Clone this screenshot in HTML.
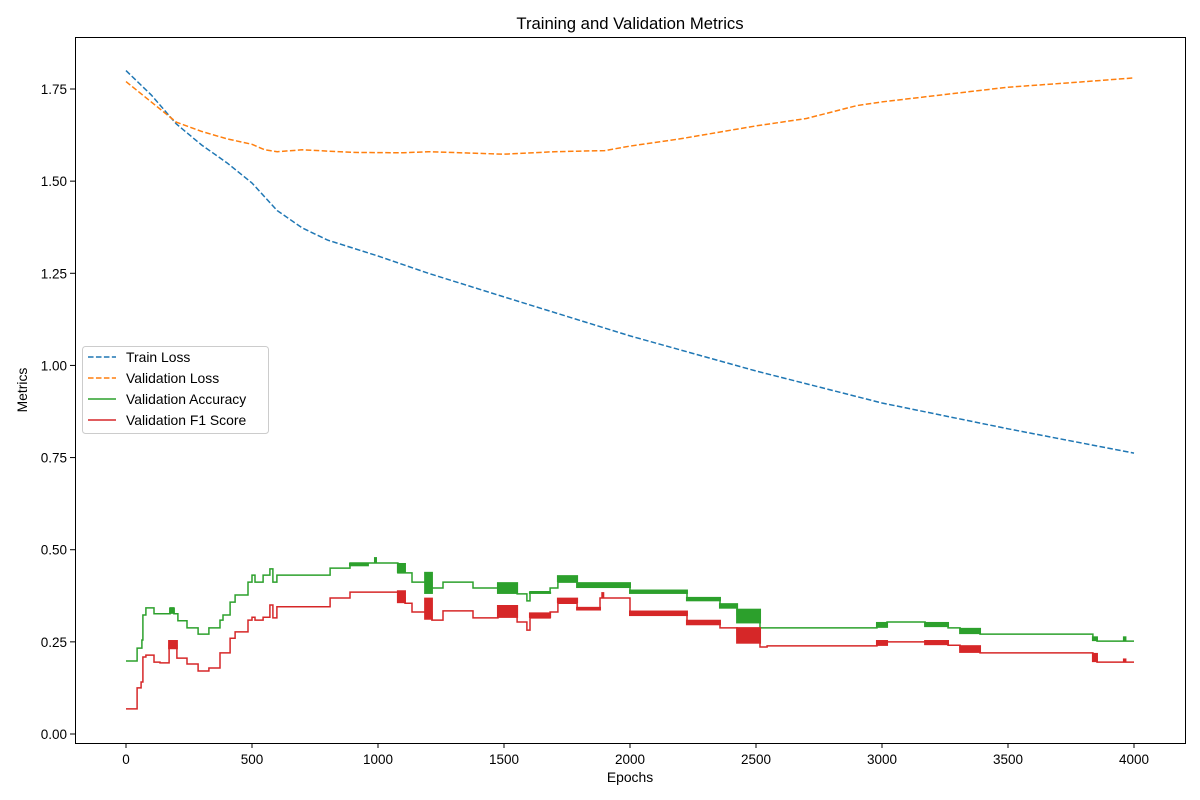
<!DOCTYPE html>
<html><head><meta charset="utf-8"><style>
body{margin:0;background:#fff;}
svg{display:block;font-family:"Liberation Sans","DejaVu Sans",sans-serif;}
</style></head><body>
<svg id="chart" width="1200" height="800" viewBox="0 0 1200 800">
<rect x="0" y="0" width="1200" height="800" fill="#fff"/>
<text x="630" y="29" text-anchor="middle" font-size="16.7">Training and Validation Metrics</text>
<text x="630" y="782" text-anchor="middle" font-size="13.9">Epochs</text>
<text x="27" y="390" text-anchor="middle" font-size="13.9" transform="rotate(-90 27 390)">Metrics</text>
<g id="ticks"></g>
<g id="series"></g>
<rect x="75.5" y="37.5" width="1110" height="706" fill="none" stroke="#000" stroke-width="1"/>
<g>
<rect x="82.5" y="346.5" width="186" height="87" rx="3" fill="#fff" fill-opacity="0.8" stroke="#ccc"/>
<line x1="88" y1="357" x2="116" y2="357" stroke="#1f77b4" stroke-width="1.5" stroke-dasharray="5.55 2.4"/>
<text x="126" y="362" font-size="13.9">Train Loss</text>
<line x1="88" y1="378" x2="116" y2="378" stroke="#ff7f0e" stroke-width="1.5" stroke-dasharray="5.55 2.4"/>
<text x="126" y="383" font-size="13.9">Validation Loss</text>
<line x1="88" y1="399" x2="116" y2="399" stroke="#2ca02c" stroke-width="1.5"/>
<text x="126" y="404" font-size="13.9">Validation Accuracy</text>
<line x1="88" y1="420" x2="116" y2="420" stroke="#d62728" stroke-width="1.5"/>
<text x="126" y="425" font-size="13.9">Validation F1 Score</text>
</g>
</svg>
<script>
const xTicks = [0,500,1000,1500,2000,2500,3000,3500,4000];
const yTicks = [0,0.25,0.5,0.75,1.0,1.25,1.5,1.75];
const yTickLabels = ["0.00","0.25","0.50","0.75","1.00","1.25","1.50","1.75"];
const lossEpochs = [0,100,200,300,400,500,600,700,800,1000,1200,1500,2000,2500,3000,3500,4000];
const trainLoss = [1.80,1.734,1.655,1.598,1.55,1.495,1.42,1.373,1.34,1.297,1.25,1.186,1.08,0.985,0.898,0.828,0.762];
const valEpochs = [0,100,200,300,400,500,550,600,700,900,1100,1200,1500,1700,1900,2000,2200,2500,2700,2900,3000,3250,3500,3750,4000];
const valLoss = [1.77,1.715,1.66,1.635,1.615,1.60,1.585,1.58,1.585,1.578,1.577,1.58,1.573,1.58,1.583,1.595,1.615,1.65,1.67,1.705,1.715,1.735,1.755,1.767,1.78];
const accEpochs = [0,44,63,67,79,111,175,190,206,242,286,329,373,385,413,433,484,500,512,544,571,583,599,810,889,1079,1135,1214,1258,1377,1476,1552,1591,1603,1683,1714,1790,2000,2226,2357,2425,2516,2980,3020,3171,3262,3310,3389,3837,3853,4000];
const accValues = [0.198,0.233,0.255,0.323,0.342,0.326,0.342,0.326,0.307,0.288,0.271,0.288,0.309,0.323,0.358,0.377,0.412,0.431,0.412,0.431,0.448,0.412,0.431,0.450,0.464,0.437,0.412,0.396,0.412,0.396,0.396,0.380,0.361,0.386,0.396,0.412,0.409,0.385,0.369,0.350,0.323,0.288,0.295,0.304,0.295,0.288,0.28,0.271,0.26,0.252,0.252];
const accBands = [[175,190,0.326,0.342],[988,992,0.464,0.48],[889,960,0.455,0.464],[1079,1107,0.437,0.464],[1187,1214,0.38,0.44],[1476,1552,0.38,0.412],[1603,1683,0.38,0.386],[1714,1790,0.412,0.431],[1790,2000,0.396,0.412],[2000,2226,0.38,0.392],[2226,2357,0.36,0.372],[2357,2425,0.34,0.355],[2425,2516,0.30,0.34],[2980,3020,0.288,0.304],[3171,3262,0.29,0.304],[3310,3389,0.271,0.288],[3837,3853,0.252,0.265],[3960,3966,0.252,0.265]];
const f1Epochs = [0,44,60,67,79,111,135,171,202,242,286,329,373,413,433,484,500,512,544,571,583,599,810,889,1079,1107,1135,1214,1258,1377,1476,1552,1591,1603,1683,1714,1790,1881,2000,2226,2357,2425,2516,2544,2980,3020,3171,3262,3310,3389,3837,3853,4000];
const f1Values = [0.068,0.125,0.141,0.209,0.214,0.195,0.193,0.241,0.206,0.190,0.171,0.179,0.220,0.260,0.277,0.309,0.317,0.309,0.317,0.350,0.315,0.345,0.369,0.385,0.37,0.355,0.331,0.309,0.334,0.315,0.33,0.304,0.282,0.315,0.331,0.355,0.342,0.369,0.328,0.304,0.288,0.269,0.236,0.239,0.245,0.25,0.25,0.241,0.23,0.220,0.205,0.195,0.195];
const f1Bands = [[171,202,0.23,0.255],[1079,1107,0.355,0.39],[1187,1214,0.31,0.37],[1476,1552,0.315,0.35],[1603,1683,0.315,0.33],[1714,1790,0.355,0.37],[1790,1881,0.335,0.345],[1890,1894,0.369,0.385],[2000,2226,0.32,0.335],[2226,2357,0.295,0.31],[2425,2516,0.245,0.29],[2980,3020,0.239,0.255],[3171,3262,0.241,0.255],[3310,3389,0.22,0.241],[3837,3853,0.195,0.22],[3960,3966,0.195,0.205]];

const NS = "http://www.w3.org/2000/svg";
function xS(e){ return 126 + e*0.252; }
function yS(v){ return 734 - v*368.57; }
const tg = document.getElementById('ticks');
const sg = document.getElementById('series');
function mk(tag, attrs, parent){ const el = document.createElementNS(NS, tag); for (const k in attrs) el.setAttribute(k, attrs[k]); parent.appendChild(el); return el; }

xTicks.forEach(t => {
  const x = xS(t);
  const l = mk('line', {x1:x, y1:743, x2:x, y2:748, stroke:'#000', 'stroke-width':1}, tg);
  
  
  const tx = mk('text', {x:x, y:764, 'text-anchor':'middle', 'font-size':13.5}, tg);
  tx.textContent = String(t);
  
  
});
yTicks.forEach((t, i) => {
  const y = yS(t);
  const l = mk('line', {x1:70, y1:y, x2:75, y2:y, stroke:'#000', 'stroke-width':1}, tg);
  
  
  const tx = mk('text', {x:67, y:y+5, 'text-anchor':'end', 'font-size':13.5}, tg);
  tx.textContent = yTickLabels[i];
  
  
});

function linePath(es, vs){ return es.map((e,i)=>(i?'L':'M')+xS(e).toFixed(1)+' '+yS(vs[i]).toFixed(1)).join(' '); }
function stepPath(es, vs){
  let d = 'M'+xS(es[0]).toFixed(1)+' '+yS(vs[0]).toFixed(1);
  for (let i=1;i<es.length;i++){ d += ' L'+xS(es[i]).toFixed(1)+' '+yS(vs[i-1]).toFixed(1)+' L'+xS(es[i]).toFixed(1)+' '+yS(vs[i]).toFixed(1); }
  return d;
}
function bands(arr, color, name){
  arr.forEach(b => {
    const x0 = xS(b[0]), x1 = xS(b[1]);
    const r = mk('rect', {x:x0-1, y:yS(b[3]), width:Math.max(2, x1-x0+2), height:Math.max(1.5, yS(b[2])-yS(b[3])), fill:color}, sg);
    
    
  });
}

const p1 = mk('path', {d:linePath(lossEpochs, trainLoss), fill:'none', stroke:'#1f77b4', 'stroke-width':1.5, 'stroke-dasharray':'5.55 2.4'}, sg);


const p2 = mk('path', {d:linePath(valEpochs, valLoss), fill:'none', stroke:'#ff7f0e', 'stroke-width':1.5, 'stroke-dasharray':'5.55 2.4'}, sg);


const p3 = mk('path', {d:stepPath(accEpochs, accValues), fill:'none', stroke:'#2ca02c', 'stroke-width':1.5}, sg);


bands(accBands, '#2ca02c', 'accuracy-noise-band');
const p4 = mk('path', {d:stepPath(f1Epochs, f1Values), fill:'none', stroke:'#d62728', 'stroke-width':1.5}, sg);


bands(f1Bands, '#d62728', 'f1-noise-band');
</script>
</body></html>
